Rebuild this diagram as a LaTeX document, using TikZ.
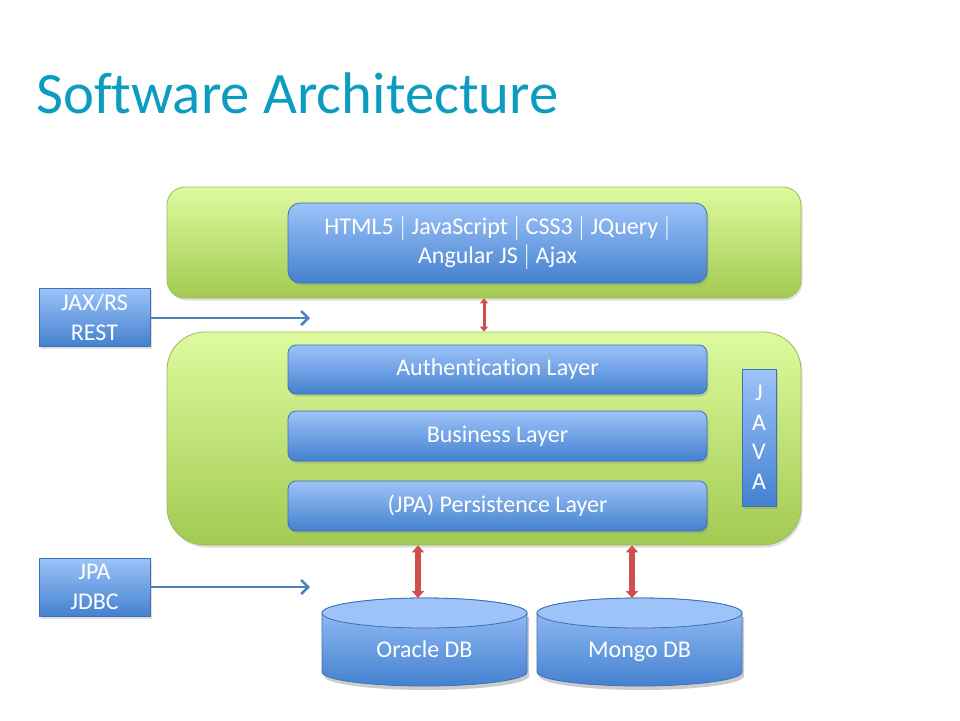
\documentclass[tikz,border=0pt]{standalone}
\usepackage{fontspec}
\setmainfont{Carlito}[Ligatures={NoCommon}]
\usetikzlibrary{shadows,arrows.meta}
\definecolor{titlec}{HTML}{0C9CC0}
\definecolor{gtop}{HTML}{DDFB9E}
\definecolor{gbot}{HTML}{A2CA52}
\definecolor{gline}{HTML}{9BBB59}
\definecolor{btop}{HTML}{9DC3F9}
\definecolor{bbot}{HTML}{4481CF}
\definecolor{bline}{HTML}{3F70B4}
\definecolor{arrowblue}{HTML}{4F81BD}
\definecolor{redarr}{HTML}{D04E4B}
\tikzset{
  shadowed/.style={drop shadow={opacity=0.25,shadow xshift=1.5pt,shadow yshift=-2.5pt}},
  greenbox/.style={shadowed,draw=gline,line width=0.8pt,top color=gtop,bottom color=gbot,inner sep=0pt},
  bluebox/.style={shadowed,draw=bline,line width=0.8pt,top color=btop,bottom color=bbot,text=white,
    font=\fontsize{24}{29.5}\selectfont,align=center,inner sep=0pt},
  bluearrow/.style={draw=arrowblue,line width=2.5pt,-{Straight Barb[length=7pt,width=14pt,line width=2.5pt]}},
  redarrow/.style={draw=redarr,{Triangle[length=7pt,width=12pt]}-{Triangle[length=7pt,width=12pt]}},
  cylbody/.style={draw=bline,line width=0.8pt,top color=btop,bottom color=bbot},
  cyltop/.style={draw=bline,line width=0.8pt,fill=btop},
  dblabel/.style={text=white,font=\fontsize{24}{29}\selectfont,anchor=base,inner sep=0pt},
}
\begin{document}
\begin{tikzpicture}[x=1pt,y=-1pt]
\useasboundingbox (0,0) rectangle (960,720);
\node[anchor=base west,text=titlec,font=\fontsize{58.7}{70}\selectfont,inner sep=0pt] (title) at (36,113) {Software Architecture};

% top green box
\node[greenbox,rounded corners=18pt,minimum width=634pt,minimum height=111pt] (topbox) at (484,242.5) {};
\node[bluebox,rounded corners=12pt,minimum width=419pt,minimum height=80pt] (web) at (497.5,243)
  {HTML5 $|$ JavaScript $|$ CSS3 $|$ JQuery $|$\\ Angular JS $|$ Ajax};

% middle green box
\node[greenbox,rounded corners=38pt,minimum width=634pt,minimum height=213pt] (midbox) at (484,438.5) {};
\node[bluebox,rounded corners=8pt,minimum width=419pt,minimum height=49pt] (auth) at (497.5,369.5) {Authentication Layer};
\node[bluebox,rounded corners=8pt,minimum width=419pt,minimum height=50pt] (business) at (497.5,436) {Business Layer};
\node[bluebox,rounded corners=8pt,minimum width=419pt,minimum height=50pt] (persist) at (497.5,506) {(JPA) Persistence Layer};
\node[bluebox,rounded corners=0pt,minimum width=34pt,minimum height=137pt] (java) at (759,437.5) {J\\A\\V\\A};

% side boxes
\node[bluebox,rounded corners=0pt,minimum width=111pt,minimum height=58pt] (jaxrs) at (94.5,317) {JAX/RS\\REST};
\node[bluebox,rounded corners=0pt,minimum width=111pt,minimum height=58pt] (jpa) at (94.5,587) {JPA\\JDBC};
\coordinate (jaxend) at (310,318);
\coordinate (jpaend) at (310,587);
\draw[bluearrow] (jaxrs.east |- jaxend) -- (jaxend);
\draw[bluearrow] (jpa.east |- jpaend) -- (jpaend);

% cylinders
\fill[black,opacity=0.2] (324,617) -- (324,676) arc[start angle=180,end angle=360,x radius=102.5pt,y radius=14pt] -- (529,617) -- cycle;
\shade[cylbody] (322,613) -- (322,672) arc[start angle=180,end angle=360,x radius=102.5pt,y radius=14pt] -- (527,613) arc[start angle=0,end angle=180,x radius=102.5pt,y radius=15pt] -- cycle;
\filldraw[cyltop] (424.5,613) ellipse[x radius=102.5pt,y radius=15pt];
\node[dblabel] (oracle) at (424.5,657) {Oracle DB};
\coordinate (oracletop) at (418,598);

\fill[black,opacity=0.2] (539,617) -- (539,676) arc[start angle=180,end angle=360,x radius=102.5pt,y radius=14pt] -- (744,617) -- cycle;
\shade[cylbody] (537,613) -- (537,672) arc[start angle=180,end angle=360,x radius=102.5pt,y radius=14pt] -- (742,613) arc[start angle=0,end angle=180,x radius=102.5pt,y radius=15pt] -- cycle;
\filldraw[cyltop] (639.5,613) ellipse[x radius=102.5pt,y radius=15pt];
\node[dblabel] (mongo) at (639.5,657) {Mongo DB};
\coordinate (mongotop) at (632,598);

% red arrows
\draw[redarrow,line width=3pt,{Triangle[length=5pt,width=8pt]}-{Triangle[length=5pt,width=8pt]}] (topbox.south) -- (midbox.north);
\draw[redarrow,line width=6pt] (midbox.south -| oracletop) -- (oracletop);
\draw[redarrow,line width=6pt] (midbox.south -| mongotop) -- (mongotop);
\end{tikzpicture}
\end{document}
